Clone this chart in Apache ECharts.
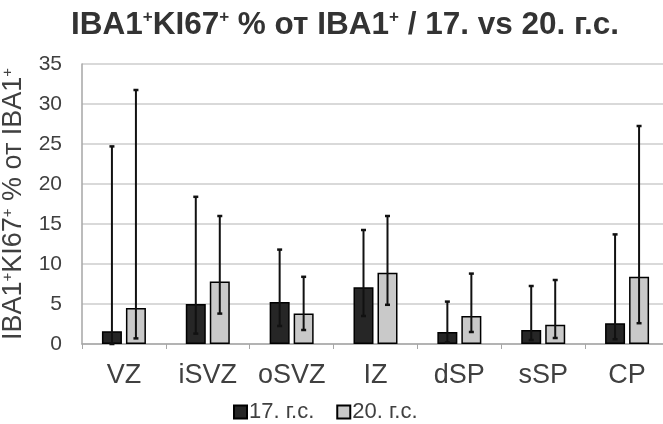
<!DOCTYPE html>
<html>
<head>
<meta charset="utf-8">
<script src="https://cdn.jsdelivr.net/npm/echarts@6/dist/echarts.min.js"></script>
<style>
  html, body { margin: 0; padding: 0; background: #fff; }
  #chart { width: 663px; height: 424px; }
</style>
</head>
<body>
<div id="chart"></div>
<script>
// категории и данные
const categories = ['VZ', 'iSVZ', 'oSVZ', 'IZ', 'dSP', 'sSP', 'CP']
const seriesNames = ['17. г.с.', '20. г.с.']
const values17 = [1.6, 5.0, 5.25, 7.1, 1.5, 1.75, 2.6]
const values20 = [4.5, 7.8, 3.8, 8.9, 3.5, 2.4, 8.4]
// концы планок погрешностей (нижний / верхний)
const low17 = [0.0, 1.3, 2.25, 3.5, 0.2, 0.5, 0.6]
const high17 = [24.7, 18.4, 11.8, 14.25, 5.3, 7.25, 13.7]
const low20 = [0.7, 3.8, 1.75, 4.9, 1.5, 0.75, 2.6]
const high20 = [31.75, 16.0, 8.4, 16.0, 8.8, 8.0, 27.25]
const yTicks = { min: 0, max: 35, interval: 5 }

const font = 'Liberation Sans, Arial, sans-serif'
const textColor = '#404040'

function errorData (low, high) {
  return categories.map(function (c, i) { return [i, low[i], high[i]] })
}

// планка погрешности, сдвинутая к своему столбцу
function errorRender (offset) {
  return function (params, api) {
    const top = api.coord([api.value(0), api.value(2)])
    const bottom = api.coord([api.value(0), api.value(1)])
    const x = top[0] + offset
    const cap = 2.5
    const capStyle = { stroke: '#111', lineWidth: 2.5 }
    return {
      type: 'group',
      children: [
        { type: 'line', shape: { x1: x, y1: top[1], x2: x, y2: bottom[1] }, style: { stroke: '#111', lineWidth: 2 } },
        { type: 'line', shape: { x1: x - cap, y1: top[1], x2: x + cap, y2: top[1] }, style: capStyle },
        { type: 'line', shape: { x1: x - cap, y1: bottom[1], x2: x + cap, y2: bottom[1] }, style: capStyle }
      ]
    }
  }
}

const titleRich = {
  a: { fontFamily: font, fontSize: 31.5, fontWeight: 'bold', color: '#333' },
  s: { fontFamily: font, fontSize: 17, fontWeight: 'bold', color: '#333', verticalAlign: 'top', padding: [0, 0, 13, 0] }
}
const axisRich = {
  a: { fontFamily: font, fontSize: 27, color: textColor },
  s: { fontFamily: font, fontSize: 15, color: textColor, verticalAlign: 'top', padding: [0, 0, 12, 0] }
}

const chart = echarts.init(document.getElementById('chart'), null, { renderer: 'canvas' })
chart.setOption({
  animation: false,
  backgroundColor: '#fff',
  title: {
    text: '{a|IBA1}{s|+}{a|KI67}{s|+}{a| % от IBA1}{s|+}{a| / 17. vs 20. г.с.}',
    left: 340,
    textAlign: 'center',
    top: 4,
    textStyle: { rich: titleRich }
  },
  grid: { left: 82, right: -6, top: 64, bottom: 80, containLabel: false, outerBoundsMode: 'none' },
  legend: {
    data: seriesNames,
    top: 396,
    left: 228,
    itemWidth: 13,
    itemHeight: 13,
    itemGap: 22,
    icon: 'rect',
    textStyle: { fontFamily: font, fontSize: 22, color: textColor, padding: [0, 0, 0, -3] }
  },
  xAxis: {
    type: 'category',
    data: categories,
    axisLine: { lineStyle: { color: '#a6a6a6', width: 1.5 } },
    axisTick: { show: true, length: 5, lineStyle: { color: '#a6a6a6' } },
    axisLabel: { interval: 0, hideOverlap: false, fontFamily: font, fontSize: 27, color: textColor, margin: 18 }
  },
  yAxis: {
    type: 'value',
    min: yTicks.min,
    max: yTicks.max,
    interval: yTicks.interval,
    name: '{a|IBA1}{s|+}{a|KI67}{s|+}{a| % от IBA1}{s|+}',
    nameLocation: 'middle',
    nameRotate: 90,
    nameGap: 55,
    nameTextStyle: { rich: axisRich },
    axisLine: { show: true, lineStyle: { color: '#a6a6a6', width: 1.5 } },
    axisTick: { show: false },
    axisLabel: { fontFamily: font, fontSize: 21, color: textColor, margin: 20 },
    splitLine: { lineStyle: { color: '#d9d9d9', width: 2 } }
  },
  series: [
    {
      name: seriesNames[0],
      type: 'bar',
      data: values17,
      barWidth: 20,
      barGap: '20%',
      itemStyle: { color: '#262626', borderColor: '#000', borderWidth: 1.5 }
    },
    {
      name: seriesNames[1],
      type: 'bar',
      data: values20,
      barWidth: 20,
      itemStyle: { color: '#c9c9c9', borderColor: '#000', borderWidth: 1.5 }
    },
    {
      type: 'custom',
      renderItem: errorRender(-12),
      data: errorData(low17, high17),
      encode: { x: 0, y: [1, 2] },
      z: 5
    },
    {
      type: 'custom',
      renderItem: errorRender(12),
      data: errorData(low20, high20),
      encode: { x: 0, y: [1, 2] },
      z: 5
    }
  ]
})
</script>
</body>
</html>
